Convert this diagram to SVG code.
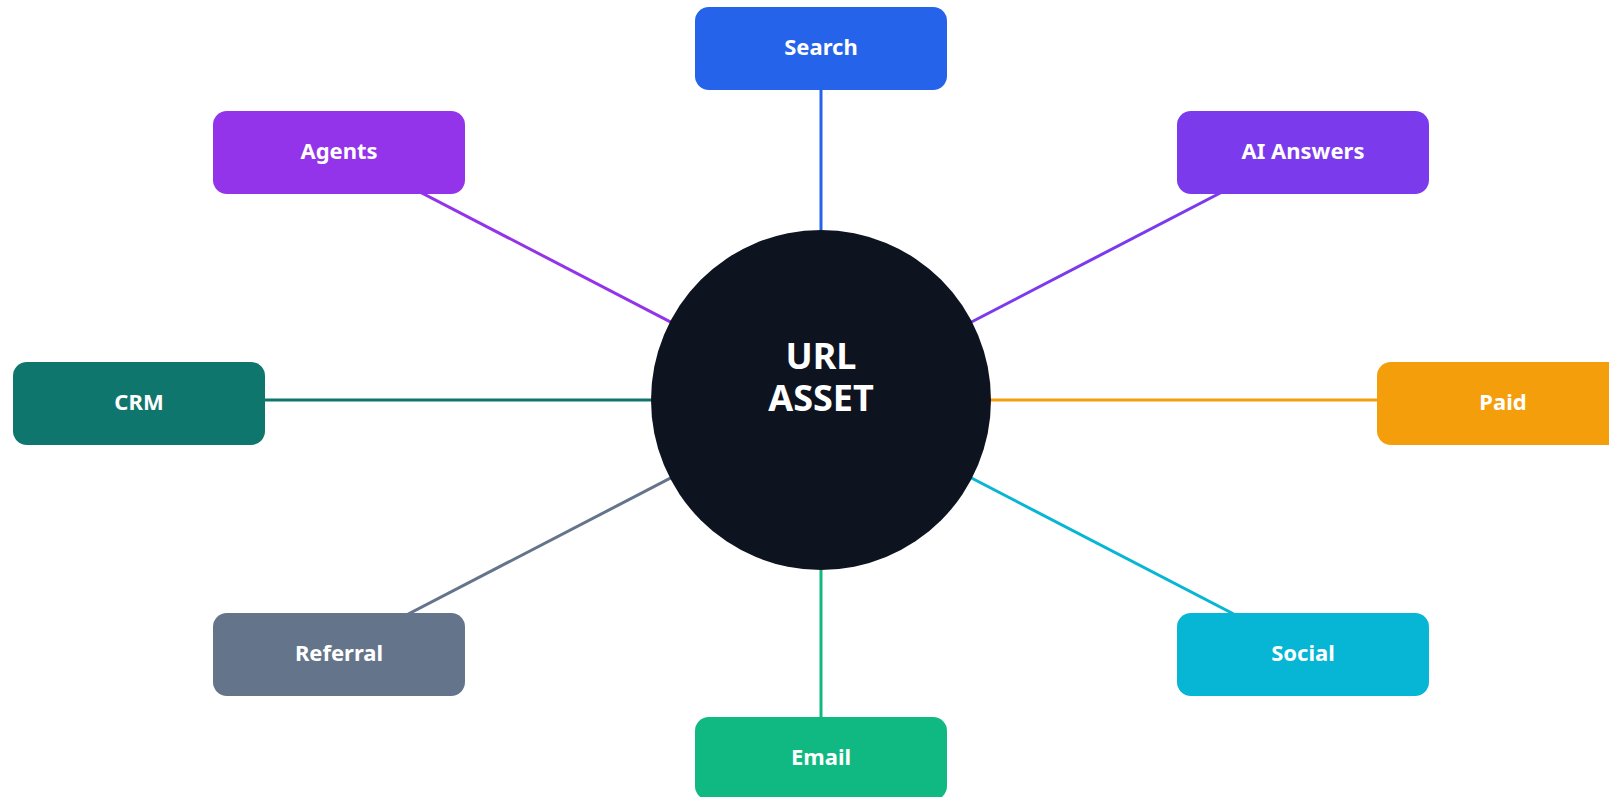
<svg xmlns="http://www.w3.org/2000/svg" width="1609" height="797" viewBox="0 0 1609 797">
<style>
.box{rx:14;ry:14}
.lbl{font-family:"Noto Sans","Liberation Sans",sans-serif;font-weight:700;font-size:22px;fill:#ffffff;text-anchor:middle}
.hub{font-family:"Noto Sans","Liberation Sans",sans-serif;font-weight:700;font-size:36px;fill:#ffffff;text-anchor:middle}
.edge{stroke-width:3;fill:none}
</style>
<rect width="1609" height="797" fill="#ffffff"/>
<g id="connectors">
<line class="edge" x1="821" y1="400" x2="821" y2="48" stroke="#2563eb"/>
<line class="edge" x1="821" y1="400" x2="339" y2="150" stroke="#9333ea"/>
<line class="edge" x1="821" y1="400" x2="1303" y2="150" stroke="#7c3aed"/>
<line class="edge" x1="821" y1="400" x2="139" y2="400" stroke="#0f766e"/>
<line class="edge" x1="821" y1="400" x2="1503" y2="400" stroke="#f59e0b"/>
<line class="edge" x1="821" y1="400" x2="339" y2="650" stroke="#64748b"/>
<line class="edge" x1="821" y1="400" x2="1303" y2="650" stroke="#06b6d4"/>
<line class="edge" x1="821" y1="400" x2="821" y2="758" stroke="#10b981"/>
</g>
<g id="hub">
<circle cx="821" cy="400" r="170" fill="#0d1420"/>
<text class="hub"><tspan x="821" y="369">URL</tspan><tspan x="821" y="411">ASSET</tspan></text>
</g>
<g id="node-search">
<rect class="box" x="695" y="7" width="252" height="83" fill="#2563eb"/>
<text class="lbl" x="821" y="54.5">Search</text>
</g>
<g id="node-agents">
<rect class="box" x="213" y="111" width="252" height="83" fill="#9333ea"/>
<text class="lbl" x="339" y="158.5">Agents</text>
</g>
<g id="node-ai-answers">
<rect class="box" x="1177" y="111" width="252" height="83" fill="#7c3aed"/>
<text class="lbl" x="1303" y="158.5">AI Answers</text>
</g>
<g id="node-crm">
<rect class="box" x="13" y="362" width="252" height="83" fill="#0f766e"/>
<text class="lbl" x="139" y="409.5">CRM</text>
</g>
<g id="node-paid">
<rect class="box" x="1377" y="362" width="252" height="83" fill="#f59e0b"/>
<text class="lbl" x="1503" y="409.5">Paid</text>
</g>
<g id="node-referral">
<rect class="box" x="213" y="613" width="252" height="83" fill="#64748b"/>
<text class="lbl" x="339" y="660.5">Referral</text>
</g>
<g id="node-social">
<rect class="box" x="1177" y="613" width="252" height="83" fill="#06b6d4"/>
<text class="lbl" x="1303" y="660.5">Social</text>
</g>
<g id="node-email">
<rect class="box" x="695" y="717" width="252" height="83" fill="#10b981"/>
<text class="lbl" x="821" y="764.5">Email</text>
</g>
</svg>
